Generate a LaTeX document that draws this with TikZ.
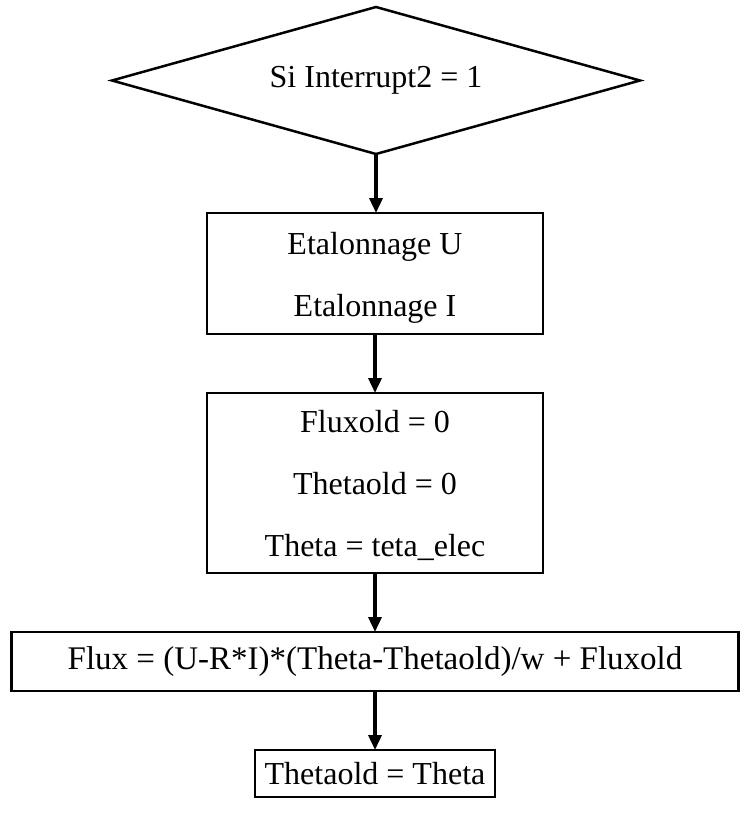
\documentclass[tikz,border=0pt]{standalone}
\usepackage{fontspec}
\setmainfont{Liberation Serif}
\usetikzlibrary{shapes.geometric,arrows.meta}
\begin{document}
\begin{tikzpicture}[x=1pt,y=-1pt,
  every node/.style={font=\fontsize{32}{62}\selectfont, inner sep=0pt, outer sep=0pt},
  decision/.style={draw, diamond, shape aspect=3.59, line width=2.5pt,
    minimum width=528pt, minimum height=147pt},
  procbox/.style={draw, rectangle, line width=2.3pt, align=center},
  flow/.style={line width=3.5pt, -{Triangle[width=13pt,length=15pt]}}]
\useasboundingbox (0,0) rectangle (747,819);
% decision and processing steps, top to bottom
\node[decision] (cond) at (376,80.5) {Si Interrupt2 = 1};
\node[procbox, minimum width=336pt, minimum height=121pt] (etal) at (375,273.5)
  {\rule{0pt}{30pt}Etalonnage U\\Etalonnage I};
\node[procbox, minimum width=336pt, minimum height=180pt] (init) at (375,483)
  {\rule{0pt}{28pt}Fluxold = 0\\Thetaold = 0\\Theta = teta\_elec};
\node[procbox, minimum width=727pt, minimum height=59pt,
  font=\fontsize{33}{62}\selectfont] (flux) at (375,661.5)
  {Flux = (U-R*I)*(Theta-Thetaold)/w + Fluxold};
\node[procbox, minimum width=240pt, minimum height=47pt] (upd) at (375,773.5)
  {Thetaold = Theta};
% flow arrows
\draw[flow] (cond.south) -- (cond.south |- etal.north);
\draw[flow] (etal.south) -- (init.north);
\draw[flow] (init.south) -- (flux.north);
\draw[flow] (flux.south) -- (upd.north);
\end{tikzpicture}
\end{document}
